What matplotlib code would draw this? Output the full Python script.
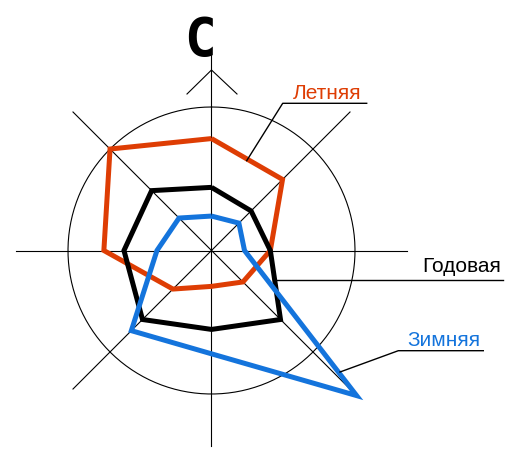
import numpy as np
import matplotlib
matplotlib.use("Agg")
import matplotlib.pyplot as plt

# румбы и повторяемость ветра (окружность = 10)
directions = ["С", "СВ", "В", "ЮВ", "Ю", "ЮЗ", "З", "СЗ"]
summer = [7.8, 7.0, 4.1, 3.1, 2.5, 3.8, 7.5, 10.0]
annual = [4.4, 3.9, 4.1, 6.8, 5.5, 6.8, 6.1, 5.9]
winter = [2.4, 2.7, 2.3, 14.3, 7.2, 7.9, 3.8, 3.2]

c_summer = "#DE3D04"
c_winter = "#1474DC"
c_annual = "#000000"

W, H = 508, 455
fig = plt.figure(figsize=(W / 100, H / 100), dpi=100)

# полярная ось: центр (211.5, 250.5) px, 1 единица = 14.35 px
cx, cy, unit, rmax = 211.5, 250.5, 14.35, 14.0
R = rmax * unit
ax = fig.add_axes([(cx - R) / W, (H - cy - R) / H, 2 * R / W, 2 * R / H],
                  projection="polar")
ax.set_theta_zero_location("N")
ax.set_theta_direction(-1)
ax.set_ylim(0, rmax)
ax.axis("off")

th = np.deg2rad(np.arange(len(directions)) * 45)

# окружность и оси румбов
tt = np.linspace(0, 2 * np.pi, 400)
ax.plot(tt, np.full_like(tt, 10), color="black", lw=0.8, clip_on=False)
for t in th:
    ax.plot([t, t], [0, 13.65], color="black", lw=0.8, clip_on=False)

def rose(vals, color):
    t = np.append(th, th[0])
    r = np.append(vals, vals[0])
    ax.plot(t, r, color=color, lw=3.6, solid_joinstyle="miter",
            solid_capstyle="butt", clip_on=False, zorder=3)

rose(summer, c_summer)
rose(annual, c_annual)
rose(winter, c_winter)

# надписи и выноски в пикселях
ov = fig.add_axes([0, 0, 1, 1], facecolor="none")
ov.set_xlim(0, W)
ov.set_ylim(H, 0)
ov.axis("off")

# стрелка севера
ov.plot([187, 211.5, 237], [94, 70, 94], color="black", lw=0.8)
ov.text(200, 56, "С", fontsize=38, fontweight="bold",
        family="DejaVu Sans Mono", ha="center", va="baseline")

# Летняя
ov.plot([246.7, 282.7, 366.7], [160.7, 103.3, 103.3], color="black", lw=1.0)
ov.text(327, 99, "Летняя", color=c_summer, fontsize=15,
        family="Liberation Sans", ha="center", va="baseline")

# Годовая
ov.plot([275, 503], [280, 280], color="black", lw=1.0)
ov.text(462, 272, "Годовая", color="black", fontsize=15,
        family="Liberation Sans", ha="center", va="baseline")

# Зимняя
ov.plot([340, 398.3, 483.3], [372, 350.7, 350.7], color="black", lw=1.0)
ov.text(444, 346.5, "Зимняя", color=c_winter, fontsize=15,
        family="Liberation Sans", ha="center", va="baseline")

fig.savefig("out.png", dpi=100)
